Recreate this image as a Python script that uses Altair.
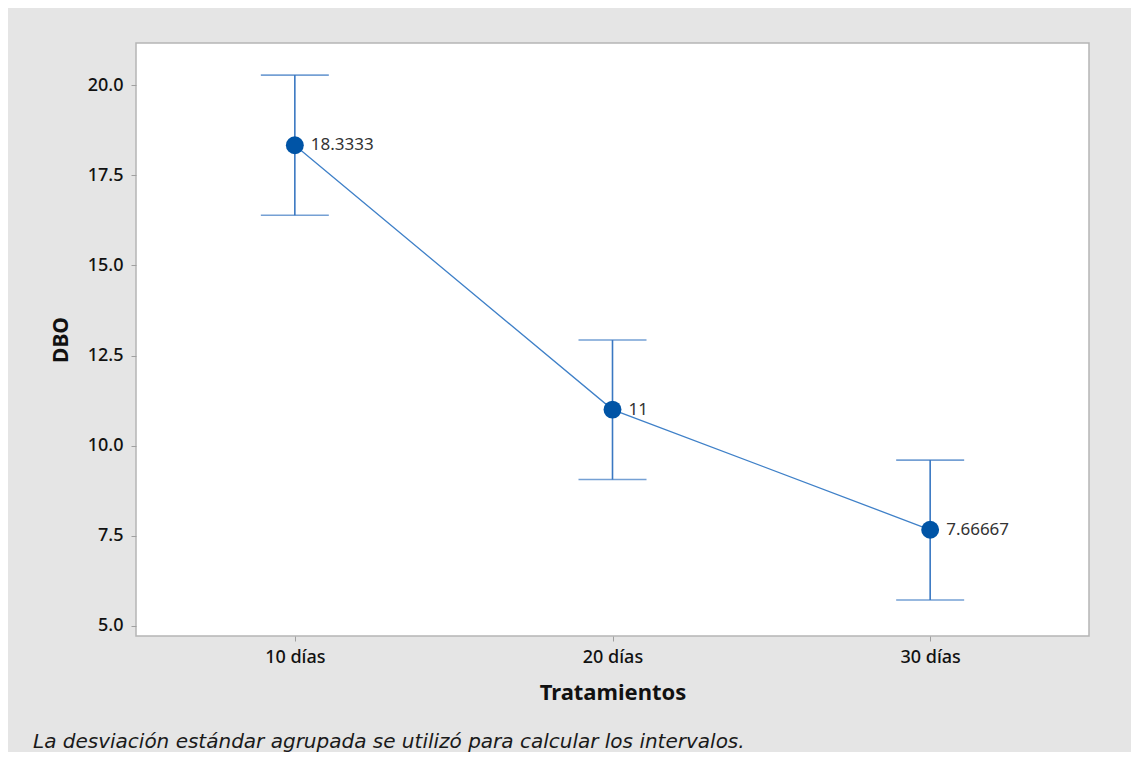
import altair as alt
import pandas as pd

categories = ["10 días", "20 días", "30 días"]
means = [18.3333, 11.0, 7.66667]
lower = [16.39, 9.06, 5.72]
upper = [20.28, 12.93, 9.60]
labels = ["18.3333", "11", "7.66667"]
y_ticks = [5.0, 7.5, 10.0, 12.5, 15.0, 17.5, 20.0]
footnote = "La desviación estándar agrupada se utilizó para calcular los intervalos."

df = pd.DataFrame({"cat": categories, "mean": means, "lo": lower, "hi": upper, "lab": labels})

FONT = "Noto Sans"
W, H = 953, 593

x = alt.X("cat:N", sort=categories, scale=alt.Scale(type="point", padding=0.5),
          axis=alt.Axis(title="Tratamientos", labelAngle=0, labelFontSize=18, labelColor="#111111",
                        labelFont=FONT, labelFontWeight=500, titleFont=FONT, titleFontSize=22,
                        titleFontWeight="bold", titleColor="#111111", titlePadding=16,
                        tickColor="#a0a0a0", tickSize=5, domain=False, labelPadding=7))
yscale = alt.Scale(domain=[4.72, 21.17], nice=False, zero=False)
y = alt.Y("mean:Q", scale=yscale,
          axis=alt.Axis(title="DBO", values=y_ticks, format=".1f", grid=False, labelFontSize=18,
                        labelColor="#111111", labelFont=FONT, labelFontWeight=500, titleFont=FONT,
                        titleFontSize=21, titleFontWeight="bold", titleColor="#111111",
                        titlePadding=16, tickColor="#a0a0a0", tickSize=5, domain=False,
                        labelPadding=8))

base = alt.Chart(df)

rule = base.mark_rule(color="#3a78c2", strokeWidth=1.6).encode(
    x=x, y=alt.Y("lo:Q", scale=yscale), y2="hi:Q")
cap_lo = base.mark_tick(color="#3a78c2", orient="horizontal", size=68, thickness=1.6).encode(
    x=x, y=alt.Y("lo:Q", scale=yscale))
cap_hi = base.mark_tick(color="#3a78c2", orient="horizontal", size=68, thickness=1.6).encode(
    x=x, y=alt.Y("hi:Q", scale=yscale))
line = base.mark_line(color="#3f80c8", strokeWidth=1.3).encode(x=x, y=y)
pts = base.mark_point(filled=True, shape="circle", size=320, color="#0054a6", opacity=1).encode(x=x, y=y)
txt = base.mark_text(align="left", baseline="middle", dx=16, fontSize=17, font=FONT,
                     color="#333333").encode(x=x, y=y, text="lab:N")

foot = alt.Chart(pd.DataFrame({"t": [footnote]})).mark_text(
    align="left", baseline="middle", fontSize=20, font="DejaVu Sans", fontStyle="italic",
    color="#1a1a1a", clip=False).encode(x=alt.value(-103), y=alt.value(699), text="t:N")

chart = alt.layer(rule, cap_lo, cap_hi, line, pts, txt, foot).properties(
    width=W, height=H,
    background="#e5e5e5",
    padding={"left": 128, "top": 35, "right": 42, "bottom": 116},
    autosize=alt.AutoSizeParams(type="none"),
).configure_view(fill="white", stroke="#b5b5b5", strokeWidth=1.5)

chart.save("out.html", embed_options={"renderer": "svg", "actions": False})
